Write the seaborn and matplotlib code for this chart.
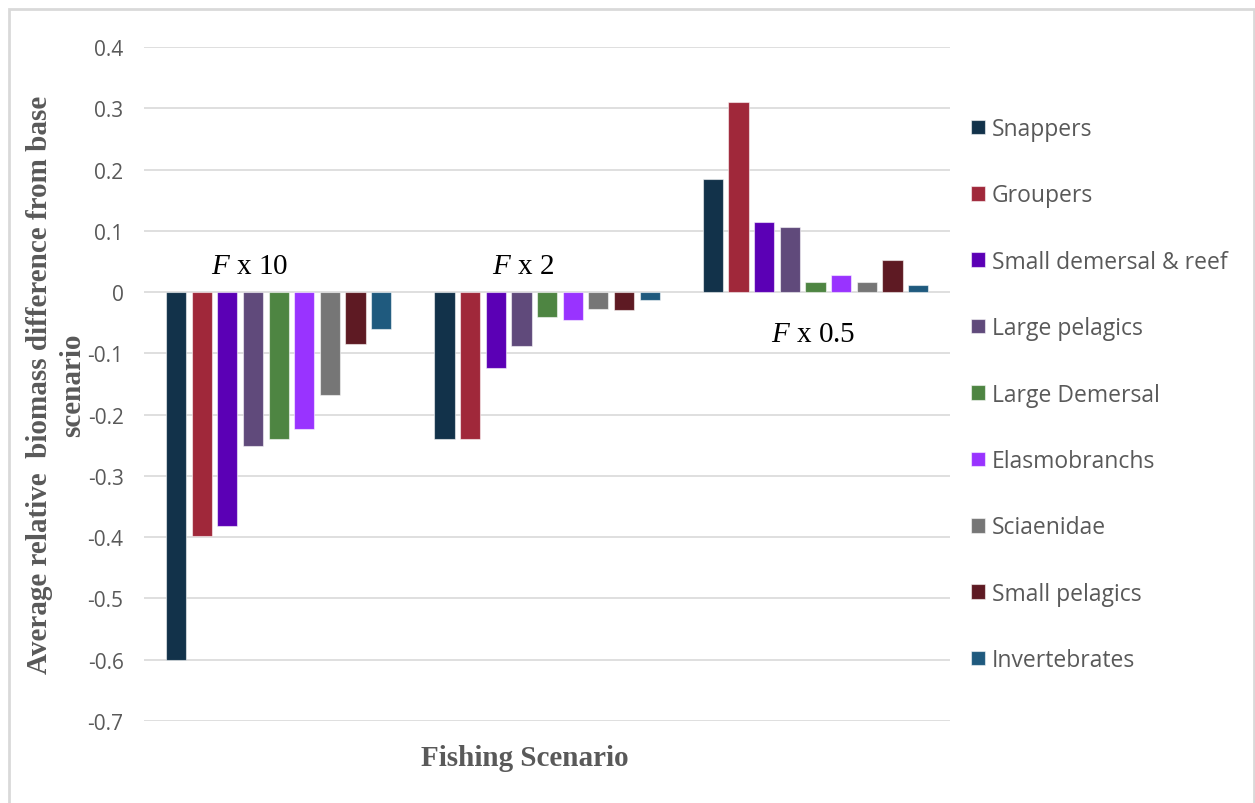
import matplotlib
matplotlib.use("Agg")
import matplotlib.pyplot as plt
from matplotlib.patches import Rectangle
import pandas as pd
import seaborn as sns

# Fishing scenarios (multipliers on fishing mortality F)
scenarios = ["F x 10", "F x 2", "F x 0.5"]
scenario_labels = [r"$F$ x 10", r"$F$ x 2", r"$F$ x 0.5"]

groups = ["Snappers", "Groupers", "Small demersal & reef", "Large pelagics",
          "Large Demersal", "Elasmobranchs", "Sciaenidae", "Small pelagics",
          "Invertebrates"]

# Average relative biomass difference from the base scenario, per group
f_x10 = [-0.600, -0.398, -0.381, -0.251, -0.240, -0.224, -0.168, -0.084, -0.061]
f_x2 = [-0.240, -0.240, -0.124, -0.088, -0.040, -0.046, -0.028, -0.030, -0.013]
f_x05 = [0.184, 0.310, 0.115, 0.107, 0.017, 0.028, 0.017, 0.053, 0.011]

colors = ["#12324A", "#A0283A", "#5B00B5", "#604A7B", "#4E8542",
          "#9933FF", "#767676", "#5E1A23", "#1F5A7E"]

yticks = [0.4, 0.3, 0.2, 0.1, 0, -0.1, -0.2, -0.3, -0.4, -0.5, -0.6, -0.7]
ytick_labels = ["0.4", "0.3", "0.2", "0.1", "0", "-0.1", "-0.2", "-0.3",
                "-0.4", "-0.5", "-0.6", "-0.7"]

rows = []
for scen, vals in zip(scenarios, [f_x10, f_x2, f_x05]):
    for g, v in zip(groups, vals):
        rows.append({"Scenario": scen, "Group": g, "Value": v})
df = pd.DataFrame(rows)

sns.set_theme(style="white")
plt.rcParams["font.family"] = ["Open Sans", "DejaVu Sans"]
plt.rcParams["mathtext.fontset"] = "custom"
plt.rcParams["mathtext.rm"] = "Liberation Serif"
plt.rcParams["mathtext.it"] = "Liberation Serif:italic"

TEXT = "#595959"
GRID = "#D9D9D9"

fig = plt.figure(figsize=(12.55, 8.04), dpi=100)
ax = fig.add_axes([0.1151, 0.102, 0.6416, 0.8383])

sns.barplot(data=df, x="Scenario", y="Value", hue="Group", order=scenarios,
            hue_order=groups, palette=colors, saturation=1, width=0.86, gap=0.21,
            edgecolor=(1, 1, 1, 0.55), linewidth=0.8, ax=ax, zorder=3)

ax.set_ylim(-0.7, 0.4)
ax.set_xlim(-0.5, 2.5)
ax.set_yticks(yticks)
ax.set_yticklabels(ytick_labels, color=TEXT, fontsize=15)
ax.tick_params(axis="y", length=0, pad=15)
ax.set_xticks([])
ax.yaxis.grid(True, color=GRID, linewidth=1.2, zorder=0)
ax.set_axisbelow(True)
for s in ax.spines.values():
    s.set_visible(False)

ax.set_xlabel("")
ax.set_ylabel("Average relative  biomass difference from base\nscenario",
              family="Liberation Serif", fontweight="bold", fontsize=21,
              color=TEXT, labelpad=1, linespacing=1.3)
fig.text(525 / 1255, 1 - 759 / 804, "Fishing Scenario", ha="center", va="center",
         family="Liberation Serif", fontweight="bold", fontsize=21, color=TEXT)

# Scenario annotations
label_pos = [(-0.11, 0.042), (-0.09, 0.042), (-0.01, -0.068)]
for i, (lab, (x, y)) in enumerate(zip(scenario_labels, label_pos)):
    ax.text(i + x, y, lab, ha="center", va="center", fontsize=21,
            family="Liberation Serif", color="black", zorder=5)

handles, labels = ax.get_legend_handles_labels()
ax.legend(handles, labels, loc="upper left",
          bbox_to_anchor=(971 / 1255, 1 - 118 / 804),
          bbox_transform=fig.transFigure, frameon=False, fontsize=16.5,
          labelcolor=TEXT, handlelength=0.61, handleheight=0.61,
          handletextpad=0.3, labelspacing=1.85, borderpad=0, borderaxespad=0)

# Chart area border
fig.patches.append(Rectangle((8.5 / 1255, -0.02), 1245.5 / 1255, 1 - 9.5 / 804 + 0.02,
                             transform=fig.transFigure, fill=False,
                             edgecolor=GRID, linewidth=2))

fig.savefig("out.png", dpi=100)
